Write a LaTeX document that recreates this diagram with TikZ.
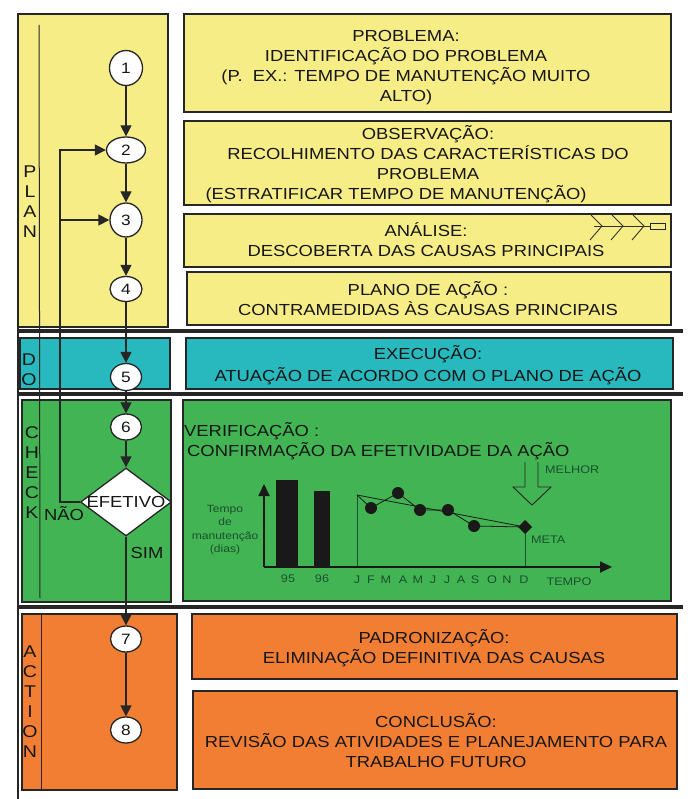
\documentclass[tikz,border=0pt]{standalone}
\usepackage{fontspec}
\setmainfont{Liberation Sans}[FakeStretch=1.15]
\usetikzlibrary{shapes.geometric,arrows.meta,calc}
\definecolor{cyel}{RGB}{247,237,134}
\definecolor{cdo}{RGB}{40,185,190}
\definecolor{cgreen}{RGB}{67,180,84}
\definecolor{corange}{RGB}{241,126,51}
\definecolor{cdkg}{RGB}{25,80,45}
\definecolor{ctxt}{RGB}{22,22,22}
\newcommand\myBig{\fontsize{16}{20}\selectfont}
\newcommand\myNum{\fontsize{15}{18}\selectfont}
\newcommand\mySmall{\fontsize{10.5}{13.5}\selectfont}
\newcommand\myAxis{\fontsize{11}{13}\selectfont}
\tikzset{
  box/.style={draw=black!85, line width=1.2pt},
  sepline/.style={line width=4pt, black!85},
  plain/.style={line width=1.3pt, black!85},
  numnode/.style={ellipse, draw=black!85, line width=1.3pt, fill=white, inner sep=0pt, font=\myNum, text=ctxt},
  flow/.style={line width=1.3pt, black!85, -{Triangle[length=11pt,width=11pt]}},
  btxt/.style={align=center, font=\myBig, text=ctxt, inner sep=0pt},
  lettxt/.style={align=center, font=\fontsize{17}{20}\selectfont, text=ctxt, inner sep=0pt},
  axtxt/.style={font=\myAxis, text=cdkg, inner sep=0pt},
}
\begin{document}
\begin{tikzpicture}[x=1pt,y=-1pt]
\useasboundingbox (0,0) rectangle (700,799);
% ---------- background boxes
\draw[box, fill=cyel] (18,14) rectangle (168,327);
\draw[box, fill=cyel] (184,14) rectangle (671,112);
\draw[box, fill=cyel] (184,121) rectangle (671,205);
\draw[box, fill=cyel] (184,214) rectangle (671,267);
\draw[box, fill=cyel] (187,272) rectangle (671,325);
\draw[box, fill=cdo] (20,338) rectangle (170,389);
\draw[box, fill=cdo] (186,338) rectangle (673,389);
\draw[box, fill=cgreen] (22,400) rectangle (171,602);
\draw[box, fill=cgreen] (183,400) rectangle (671,601);
\draw[box, fill=corange] (22,614) rectangle (177,790);
\draw[box, fill=corange] (192,614) rectangle (677,679);
\draw[box, fill=corange] (193,691) rectangle (677,789);
% ---------- separators
\draw[sepline] (17,331) -- (683,331);
\draw[sepline] (17,394) -- (683,394);
\draw[sepline] (17,607) -- (683,607);
% ---------- left rules
\draw[plain] (18,14) -- (18,799);
\draw[plain, line width=1pt] (39,25) -- (40,598);
\draw[plain, line width=1pt] (41,614) -- (41,790);
% ---------- phase letters
\node[lettxt] (lp) at (30,202) {P\\L\\A\\N};
\node[lettxt] (ld) at (29,370) {D\\O};
\node[lettxt] (lc) at (32,473) {C\\H\\E\\C\\K};
\node[lettxt] (la) at (30,702) {A\\C\\T\\I\\O\\N};
% ---------- flow nodes
\node[numnode, minimum width=33pt, minimum height=35pt] (n1) at (126,68) {1};
\node[numnode, minimum width=39pt, minimum height=26pt] (n2) at (126,150) {2};
\node[numnode, minimum width=32pt, minimum height=34pt] (n3) at (126,220) {3};
\node[numnode, minimum width=32pt, minimum height=25pt] (n4) at (126,289) {4};
\node[numnode, minimum width=31pt, minimum height=27pt] (n5) at (126,377) {5};
\node[numnode, minimum width=31pt, minimum height=26pt] (n6) at (126,427) {6};
\node[diamond, draw=black!85, line width=1.3pt, fill=white, inner sep=0pt,
      minimum width=91pt, minimum height=68pt] (dia) at (126,502) {};
\node[btxt] (efet) at (dia.center) {EFETIVO};
\node[numnode, minimum width=31pt, minimum height=26pt] (n7) at (126,639) {7};
\node[numnode, minimum width=31pt, minimum height=26pt] (n8) at (126,730) {8};
% ---------- flow connectors
\draw[flow] (n1) -- (n2);
\draw[flow] (n2) -- (n3);
\draw[flow] (n3) -- (n4);
\draw[flow] (n4) -- (n5);
\draw[flow] (n5) -- (n6);
\draw[flow] (n6) -- (dia);
\draw[flow] (dia) -- (n7);
\draw[flow] (n7) -- (n8);
\coordinate (fa) at (60,150);
\coordinate (fb) at (60,220);
\draw[flow] (dia.west) -| (fa) -- (n2);
\draw[flow] (fb) -- (n3);
\node[btxt] (nao) at (64,514) {NÃO};
\node[btxt] (sim) at (147,553) {SIM};
% ---------- right texts
\node[btxt] (t1) at (406,68) {PROBLEMA:\\IDENTIFICAÇÃO DO PROBLEMA\\(P.\ \ EX.: TEMPO DE MANUTENÇÃO MUITO\\ALTO)};
\node[btxt] (t2) at (428,164) {OBSERVAÇÃO:\\RECOLHIMENTO DAS CARACTERÍSTICAS DO\\PROBLEMA\\(ESTRATIFICAR TEMPO DE MANUTENÇÃO)\hspace*{64pt}};
\node[btxt] (t3) at (426,240) {ANÁLISE:\\DESCOBERTA DAS CAUSAS PRINCIPAIS};
\node[btxt] (t4) at (428,299) {PLANO DE AÇÃO :\\CONTRAMEDIDAS ÀS CAUSAS PRINCIPAIS};
\node[btxt, font=\fontsize{16}{22}\selectfont] (t5) at (428,365) {EXECUÇÃO:\\ATUAÇÃO DE ACORDO COM O PLANO DE AÇÃO};
\node[btxt, align=left, anchor=west] (t6) at (184,441) {VERIFICAÇÃO :\\\hspace*{3pt}CONFIRMAÇÃO DA EFETIVIDADE DA AÇÃO};
\node[btxt] (t7) at (434,648) {PADRONIZAÇÃO:\\ELIMINAÇÃO DEFINITIVA DAS CAUSAS};
\node[btxt] (t8) at (436,741) {CONCLUSÃO:\\REVISÃO DAS ATIVIDADES E PLANEJAMENTO PARA\\TRABALHO FUTURO};
% ---------- fishbone icon
\draw[line width=0.9pt, black!80] (594,226) -- (650,226);
\foreach \tx in {602,623,644}{
  \draw[line width=0.9pt, black!80] (\tx-11,215) -- (\tx,226) -- (\tx-12,240);
}
\draw[line width=0.9pt, black!85, fill=cyel] (650,223) rectangle (665,229);
% ---------- chart
\fill[black!90] (276,480) rectangle (298,567);
\fill[black!90] (314,491) rectangle (330,567);
\draw[line width=1.8pt, black!90, -{Triangle[length=12pt,width=11pt]}] (264,567) -- (264,484);
\draw[line width=1.8pt, black!90, -{Triangle[length=12pt,width=11pt]}] (264,567) -- (612,567);
\draw[line width=1pt, cdkg] (357,566) -- (357,495);
\draw[line width=1pt, cdkg] (525,566) -- (525,527);
\draw[line width=0.8pt, black!90] (357,495) -- (525,527);
\draw[line width=0.8pt, black!90] (357,495) -- (371,508) -- (398,493) -- (420,510) -- (448,510) -- (474,526) -- (525,527);
\foreach \dx/\dy in {371/508,398/493,420/510,448/510,474/526}{
  \fill[black!90] (\dx,\dy) circle (6);
}
\fill[black!90] (525,520) -- (532,527) -- (525,534) -- (518,527) -- cycle;
\draw[line width=0.9pt, black!85] (525,462) -- (525,487) -- (513,487) -- (532,505) -- (551,487) -- (538,487) -- (538,462);
\node[axtxt, anchor=west] (melhor) at (545,470) {MELHOR};
\node[axtxt, anchor=west] (meta) at (531,540) {META};
\node[axtxt] (tempo) at (569,582) {TEMPO};
\node[axtxt] (y95) at (288,579) {95};
\node[axtxt] (y96) at (322,579) {96};
\foreach \mx/\ml [count=\i] in {357/J,371/F,386/M,403/A,418/M,433/J,447/J,461/A,475/S,492/O,507/N,524/D}{
  \node[axtxt] (m\i) at (\mx,580) {\ml};
}
\node[align=center, font=\mySmall, text=cdkg, inner sep=0pt] (ylab) at (225,530) {Tempo\\de\\manutenção\\(dias)};
\end{tikzpicture}
\end{document}
